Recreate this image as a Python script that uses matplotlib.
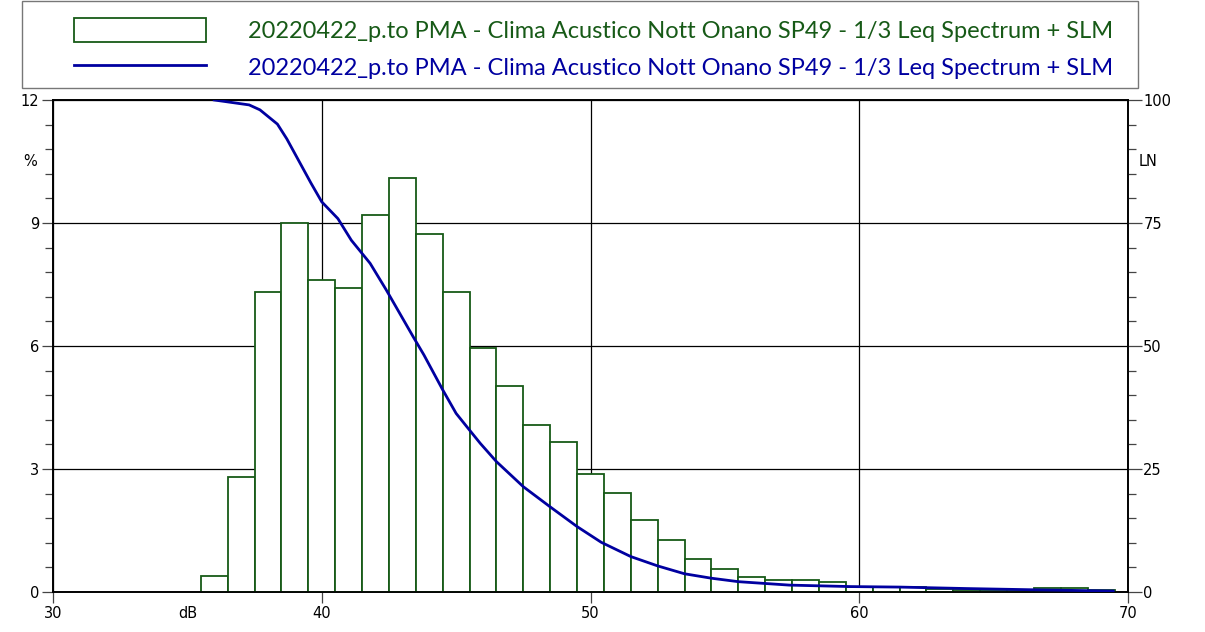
import numpy as np
import matplotlib.pyplot as plt
from matplotlib.patches import Patch, Rectangle
from matplotlib.lines import Line2D
from matplotlib.ticker import MultipleLocator

# histogram: % of time per 1 dB class (class centre in dB)
levels = np.arange(36, 70)
percent = [0.40, 2.80, 7.31, 9.00, 7.61, 7.42, 9.20, 10.09, 8.73, 7.32,
           5.95, 5.03, 4.07, 3.67, 2.87, 2.42, 1.76, 1.26, 0.81, 0.57,
           0.37, 0.30, 0.30, 0.25, 0.12, 0.12, 0.13, 0.07, 0.05, 0.05,
           0.05, 0.09, 0.09, 0.04]

# cumulative level distribution LN (%)
ln_db = [36.0, 37.3, 37.7, 38.35, 38.7, 39.6, 40.0, 40.6, 41.1, 41.8,
         42.4, 43.4, 43.8, 44.5, 45.0, 45.5, 45.9, 46.5, 47.5, 48.5,
         49.5, 50.4, 51.5, 52.5, 53.5, 54.5, 55.5, 57.4, 59.7, 61.5,
         64.0, 67.0, 69.45]
ln_val = [100.0, 99.0, 98.0, 95.1, 92.1, 83.1, 79.3, 75.9, 71.5, 66.8,
          61.4, 51.9, 48.2, 41.1, 36.3, 32.9, 30.2, 26.5, 21.4, 17.3,
          13.3, 10.1, 7.2, 5.3, 3.7, 2.8, 2.1, 1.4, 1.1, 1.0,
          0.7, 0.4, 0.2]

label = '20220422_p.to PMA - Clima Acustico Nott Onano SP49 - 1/3 Leq Spectrum + SLM'
green = '#175a17'
blue = '#0000a0'

fig = plt.figure(figsize=(12.05, 6.32), dpi=100)
ax = fig.add_axes([53/1205, 1-592/632, (1128-53)/1205, (592-100)/632])
ax2 = ax.twinx()

ax.bar(levels, percent, width=1.0, facecolor='white', edgecolor=green, linewidth=1.3, zorder=3)
ax2.plot(ln_db, ln_val, color=blue, linewidth=2.0, zorder=4)

ax.set_xlim(30, 70)
ax.set_ylim(0, 12)
ax2.set_ylim(0, 100)

ax.set_xticks([30, 40, 50, 60, 70])
ax.set_xticks([35], ['dB'], minor=True)
ax.set_yticks([0, 3, 6, 9, 12])
ax.yaxis.set_minor_locator(MultipleLocator(0.6))
ax2.set_yticks([0, 25, 50, 75, 100])
ax2.yaxis.set_minor_locator(MultipleLocator(5))

ax.grid(True, which='major', color='black', linewidth=0.9, zorder=1)
ax.set_axisbelow(True)
ax.tick_params(axis='both', which='major', length=8, width=0.9, labelsize=10.5, color='#444444', pad=2)
ax.tick_params(axis='x', which='minor', length=0, pad=10, labelsize=10.5)
ax.tick_params(axis='y', which='minor', length=6, width=0.9, color='#444444')
ax2.tick_params(axis='y', which='major', length=10, width=0.9, labelsize=10.5, color='#444444', pad=1)
ax2.tick_params(axis='y', which='minor', length=6, width=0.9, color='#444444')

for sp in list(ax.spines.values()) + list(ax2.spines.values()):
    sp.set_linewidth(1.2)
    sp.set_color('black')

# unit labels sitting between the tick labels
ax.text(-0.015, 10.5, '%', transform=ax.get_yaxis_transform(), ha='right', va='center', fontsize=10.5)
ax2.text(1.01, 87.5, 'LN', transform=ax2.get_yaxis_transform(), ha='left', va='center', fontsize=10.5)

# legend frame drawn separately so the entries can sit with wide side margins
fig.patches.append(Rectangle((22/1205, 1-88/632), 1116/1205, 87/632, transform=fig.transFigure,
                             fill=False, edgecolor='#777777', linewidth=1.0))
handles = [Patch(facecolor='white', edgecolor=green, linewidth=1.3),
           Line2D([], [], color=blue, linewidth=2.0)]
leg = fig.legend(handles, [label, label], loc='upper left',
                 bbox_to_anchor=(74/1205, 1-18/632),
                 prop={'family': 'Lato', 'size': 17},
                 handlelength=5.6, handleheight=1.2, handletextpad=1.75,
                 labelspacing=0.55, borderpad=0, borderaxespad=0,
                 frameon=False)
leg.get_texts()[0].set_color(green)
leg.get_texts()[1].set_color(blue)

fig.savefig('out.png', dpi=100)
